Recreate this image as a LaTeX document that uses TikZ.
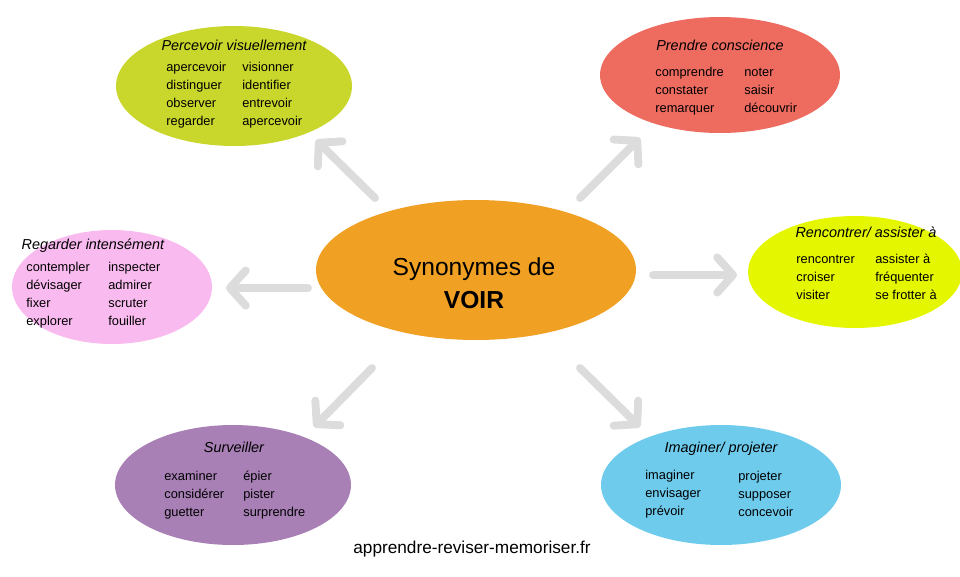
\documentclass[tikz,border=0pt]{standalone}
\usepackage{fontspec}
\setmainfont{Liberation Sans}
\usetikzlibrary{arrows.meta, shapes.geometric}
\definecolor{orangeC}{HTML}{F0A023}
\definecolor{greenC}{HTML}{C9D62C}
\definecolor{redC}{HTML}{EE6B5F}
\definecolor{pinkC}{HTML}{F9BAEF}
\definecolor{yellowC}{HTML}{E4F600}
\definecolor{purpleC}{HTML}{A880B6}
\definecolor{blueC}{HTML}{6ECBEC}
\definecolor{arrowC}{HTML}{DCDCDC}
\tikzset{
  bubble/.style={ellipse, draw=none, fill=#1, inner sep=0pt},
  head/.style={font=\fontsize{8.2}{9}\selectfont\itshape, anchor=base, inner sep=0pt},
  word/.style={font=\fontsize{7.3}{8.5}\selectfont, anchor=base west, inner sep=0pt},
  link/.style={draw=arrowC, line width=4.5pt, line cap=round, -{Straight Barb[length=9pt,width=20pt,round]}},
}
\begin{document}
\begin{tikzpicture}[x=0.02cm, y=-0.02cm]
\useasboundingbox (0,0) rectangle (960,576);
%bubbles
\node[bubble=orangeC, minimum width=6.4cm, minimum height=2.8cm] (centre) at (476,270) {};
\node[bubble=greenC, minimum width=4.72cm, minimum height=2.4cm] (percevoir) at (234,86) {};
\node[bubble=redC, minimum width=4.8cm, minimum height=2.32cm] (prendre) at (720,75) {};
\node[bubble=pinkC, minimum width=4.0cm, minimum height=2.28cm] (regarder) at (112,287) {};
\node[bubble=yellowC, minimum width=4.28cm, minimum height=2.24cm] (rencontrer) at (855,272) {};
\node[bubble=purpleC, minimum width=4.72cm, minimum height=2.4cm] (surveiller) at (233,485) {};
\node[bubble=blueC, minimum width=4.8cm, minimum height=2.4cm] (imaginer) at (721,485) {};
%centre text
\node[font=\fontsize{14}{15}\selectfont, anchor=base] (syn) at (474,275) {Synonymes de};
\node[font=\fontsize{14}{15}\selectfont\bfseries, anchor=base] (voir) at (474,308) {VOIR};
%arrows
\coordinate (a1s) at (375,198); \coordinate (a1e) at (316,140);
\coordinate (a2s) at (580,198); \coordinate (a2e) at (640,138);
\coordinate (a3s) at (308,288); \coordinate (a3e) at (226,288);
\coordinate (a4s) at (653,275); \coordinate (a4e) at (737,275);
\coordinate (a5s) at (372,368); \coordinate (a5e) at (314,427);
\coordinate (a6s) at (580,368); \coordinate (a6e) at (640,427);
\foreach \s/\e in {a1s/a1e, a2s/a2e, a3s/a3e, a4s/a4e, a5s/a5e, a6s/a6e}
  \draw[link] (\s) -- (\e);
%headings
\node[head] (h1) at (234,50) {Percevoir visuellement};
\node[head] (h2) at (720,50) {Prendre conscience};
\node[head] (h3) at (93,249) {Regarder intensément};
\node[head] (h4) at (866,237) {Rencontrer/ assister à};
\node[head] (h5) at (234,452) {Surveiller};
\node[head] (h6) at (721,452) {Imaginer/ projeter};
%words
\foreach \w [count=\i] in {apercevoir, distinguer, observer, regarder}
  \node[word] (p1\i) at (166,53+18*\i) {\w};
\foreach \w [count=\i] in {visionner, identifier, entrevoir, apercevoir}
  \node[word] (p2\i) at (242,53+18*\i) {\w};
\foreach \w [count=\i] in {comprendre, constater, remarquer}
  \node[word] (c1\i) at (655,58+18*\i) {\w};
\foreach \w [count=\i] in {noter, saisir, découvrir}
  \node[word] (c2\i) at (744,58+18*\i) {\w};
\foreach \w [count=\i] in {contempler, dévisager, fixer, explorer}
  \node[word] (r1\i) at (26,253+18*\i) {\w};
\foreach \w [count=\i] in {inspecter, admirer, scruter, fouiller}
  \node[word] (r2\i) at (108,253+18*\i) {\w};
\foreach \w [count=\i] in {rencontrer, croiser, visiter}
  \node[word] (e1\i) at (796,245+18*\i) {\w};
\foreach \w [count=\i] in {assister à, fréquenter, se frotter à}
  \node[word] (e2\i) at (875,245+18*\i) {\w};
\foreach \w [count=\i] in {examiner, considérer, guetter}
  \node[word] (s1\i) at (164,462+18*\i) {\w};
\foreach \w [count=\i] in {épier, pister, surprendre}
  \node[word] (s2\i) at (243,462+18*\i) {\w};
\foreach \w [count=\i] in {imaginer, envisager, prévoir}
  \node[word] (i1\i) at (645,461+18*\i) {\w};
\foreach \w [count=\i] in {projeter, supposer, concevoir}
  \node[word] (i2\i) at (738,462+18*\i) {\w};
%footer
\node[font=\fontsize{9.8}{11}\selectfont, anchor=base] (site) at (472,553) {apprendre-reviser-memoriser.fr};
\end{tikzpicture}
\end{document}
